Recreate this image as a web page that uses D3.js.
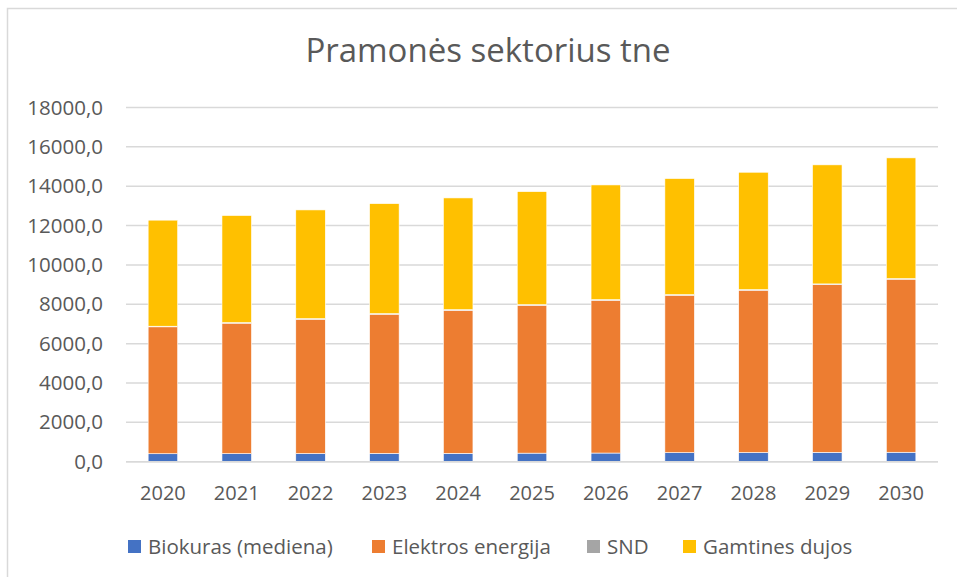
<!DOCTYPE html>
<html>
<head>
<meta charset="utf-8">
<script src="https://cdn.jsdelivr.net/npm/d3@7"></script>
<style>
  body { margin: 0; background: #fff; }
  text { font-family: "Open Sans", "Noto Sans", sans-serif; fill: #595959; }
</style>
</head>
<body>
<script>
// data (tne)
var years = ["2020","2021","2022","2023","2024","2025","2026","2027","2028","2029","2030"]
var biokuras = [405,410,415,420,425,435,440,460,465,475,480]
var elektros = [6450,6630,6825,7075,7270,7515,7765,8000,8250,8530,8795]
var snd = [30,30,30,30,30,30,30,30,30,30,30]
var dujos = [5390,5440,5525,5590,5680,5745,5830,5900,5965,6050,6135]
var seriesNames = ["Biokuras (mediena)","Elektros energija","SND","Gamtines dujos"]
var yTicks = [0,2000,4000,6000,8000,10000,12000,14000,16000,18000]

var colors = ["#4472C4","#ED7D31","#A5A5A5","#FFC000"]

var width = 957, height = 577
var svg = d3.select("body").append("svg")
  .attr("width", width)
  .attr("height", height)

// chart frame
svg.append("rect")
  .attr("x", 7.5).attr("y", 8.5)
  .attr("width", 960).attr("height", 580)
  .attr("fill", "white")
  .attr("stroke", "#d9d9d9")
  .attr("stroke-width", 1.5)

svg.append("text")
  .attr("x", 488).attr("y", 62)
  .attr("text-anchor", "middle")
  .style("font-size", "33px")
  .text("Pramonės sektorius tne")

var x = d3.scaleBand()
  .domain(years)
  .range([126, 938])
  .paddingInner(0.6)
  .paddingOuter(0.3)

var y = d3.scaleLinear()
  .domain([0, 18000])
  .range([461.7, 107.5])

// gridlines
svg.append("g").selectAll("line")
  .data(yTicks)
  .enter().append("line")
  .attr("x1", 126).attr("x2", 938)
  .attr("y1", function(d){ return y(d) })
  .attr("y2", function(d){ return y(d) })
  .attr("stroke", "#d9d9d9")
  .attr("stroke-width", 1.5)

svg.append("g").selectAll("text")
  .data(yTicks)
  .enter().append("text")
  .attr("x", 103)
  .attr("y", function(d){ return y(d) + 7 })
  .attr("text-anchor", "end")
  .style("font-size", "20.5px")
  .text(function(d){ return d3.format(".1f")(d).replace(".", ",") })

// stacked bars
var rows = years.map(function(yr, i){
  return {year: yr, b: biokuras[i], e: elektros[i], s: snd[i], g: dujos[i]}
})
var stack = d3.stack().keys(["b","e","s","g"])
var layers = stack(rows)

svg.append("g").selectAll("g")
  .data(layers)
  .enter().append("g")
  .attr("fill", function(d, i){ return colors[i] })
  .selectAll("rect")
  .data(function(d){ return d })
  .enter().append("rect")
  .attr("x", function(d){ return x(d.data.year) })
  .attr("width", x.bandwidth())
  .attr("y", function(d){ return y(d[1]) })
  .attr("height", function(d){ return y(d[0]) - y(d[1]) })
  .attr("stroke", "white")
  .attr("stroke-width", 0.6)

// x axis line on top of bars
svg.append("line")
  .attr("x1", 126).attr("x2", 938)
  .attr("y1", y(0)).attr("y2", y(0))
  .attr("stroke", "#d9d9d9")
  .attr("stroke-width", 1.5)

svg.append("g").selectAll("text")
  .data(years)
  .enter().append("text")
  .attr("x", function(d){ return x(d) + x.bandwidth()/2 })
  .attr("y", 500)
  .attr("text-anchor", "middle")
  .style("font-size", "20px")
  .text(function(d){ return d })

// legend
var legX = [128, 372, 587, 683]
var leg = svg.append("g").selectAll("g")
  .data(seriesNames)
  .enter().append("g")
  .attr("transform", function(d, i){ return "translate(" + legX[i] + ",540)" })
leg.append("rect")
  .attr("width", 13).attr("height", 13)
  .attr("fill", function(d, i){ return colors[i] })
leg.append("text")
  .attr("x", 20).attr("y", 13.5)
  .style("font-size", "20.5px")
  .text(function(d){ return d })
</script>
</body>
</html>
